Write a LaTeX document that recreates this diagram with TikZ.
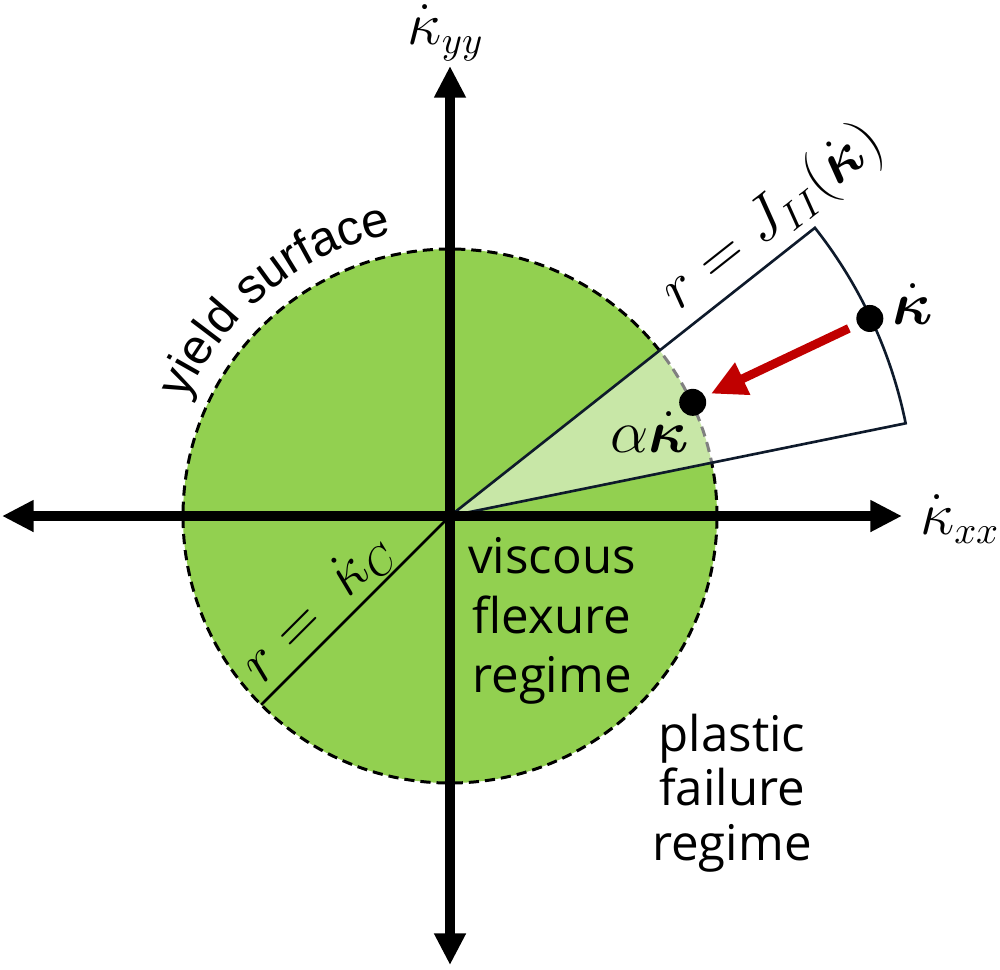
\documentclass[tikz,border=0pt]{standalone}
\usepackage{fontspec}
\usepackage{amsmath, amssymb}
\usepackage{bm}
\setsansfont{Liberation Sans}
\newfontfamily\regimefont{Open Sans}
\usetikzlibrary{positioning, calc, arrows.meta, decorations.text}
\definecolor{verde}{HTML}{92D050}
\definecolor{rosso}{HTML}{C00000}
\definecolor{blu}{HTML}{0E1A2B}
\tikzset{
    asse/.style={line width=2.8pt, {Triangle[length=9pt,width=8.5pt]}-{Triangle[length=9pt,width=8.5pt]}},
    punto/.style={circle, fill=black, inner sep=0pt, minimum size=0.27cm},
    etichetta/.style={font=\fontsize{16}{19}\selectfont, inner sep=1pt},
    regime/.style={font=\regimefont\fontsize{14}{17}\selectfont, align=center}
}

\begin{document}
\begin{tikzpicture}
    \useasboundingbox (-4.5,-4.53) rectangle (5.5,5.16);
    %cerchio di snervamento
        \fill[verde] (0,0) circle (2.67);
        \draw[line width=0.85pt, dash pattern=on 2.9pt off 1.7pt] (0,0) circle (2.67);
        %settore
        \fill[white, opacity=0.5] (0,0) -- (11.5:2.72) arc (11.5:38.3:2.72) -- cycle;
        \draw[blu, line width=0.75pt] (0,0) -- (38.3:4.65) arc (38.3:11.5:4.65) -- cycle;
        %raggio critico
        \coordinate (O) at (0,0);
        \coordinate (C) at (225:2.67);
        \draw[line width=0.75pt] (O) -- (C);
    %disegno assi
        \coordinate (xs) at (-4.48,0);
        \coordinate (xd) at (4.52,0);
        \coordinate (yb) at (0,-4.49);
        \coordinate (ya) at (0,4.5);
        \draw[asse] (xs) -- (xd);
        \draw[asse] (yb) -- (ya);
        \node[etichetta] (kxx) at (5.1,-0.03) {$\dot{\kappa}_{xx}$};
        \node[etichetta] (kyy) at (-0.04,4.83) {$\dot{\kappa}_{yy}$};
    %punti e freccia
        \node[punto] (k) at (25.2:4.64) {};
        \node[punto] (ak) at (25.1:2.68) {};
        \draw[rosso, line width=2.5pt, -{Triangle[length=10pt,width=9.5pt]}, shorten <=0.09cm, shorten >=0.06cm] (k) -- (ak);
    %label
        \node[etichetta] (kl) at (4.63,2.12) {$\dot{\bm{\kappa}}$};
        \node[etichetta] (akl) at (2.0,0.84) {$\alpha\dot{\bm{\kappa}}$};
        \node[etichetta, rotate=38.3] (rJ) at (3.23,2.98) {$r = J_{II}(\dot{\bm{\kappa}})$};
        \node[etichetta, rotate=45] (rC) at (-1.32,-0.92) {$r =\;\dot{\kappa}_C$};
        \path[decorate, decoration={text along path, text align=center,
            text={|\sffamily\fontsize{14}{17}\selectfont|yield surface}}] (154:2.88) arc (154:104:2.88);
        \node[regime] (visc) at (1.02,-1.05) {viscous\\flexure\\regime};
        \node[regime, font=\regimefont\fontsize{14}{15.5}\selectfont] (plast) at (2.82,-2.77) {plastic\\failure\\regime};
\end{tikzpicture}
\end{document}
